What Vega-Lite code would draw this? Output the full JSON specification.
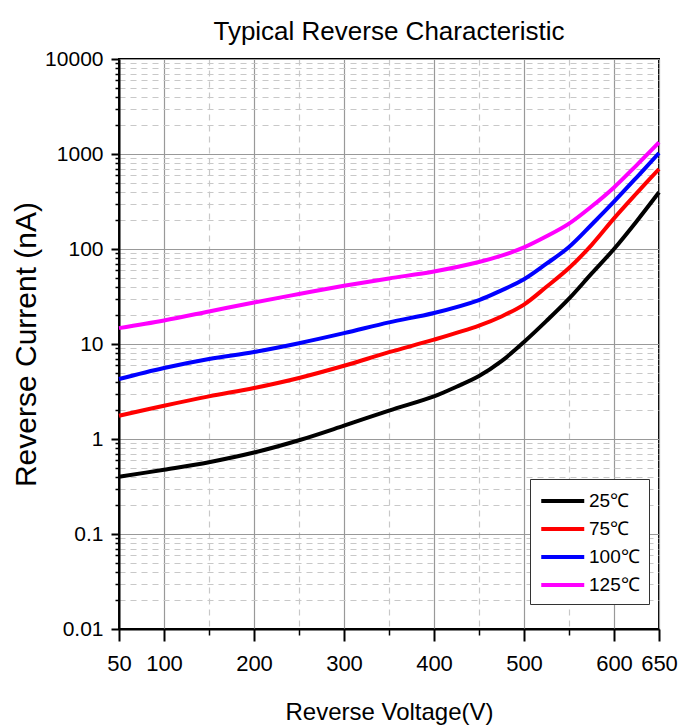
{
  "$schema": "https://vega.github.io/schema/vega-lite/v6.json",
  "width": 540,
  "height": 570,
  "autosize": "none",
  "padding": {"left": 119, "top": 59, "right": 32, "bottom": 97},
  "background": "white",
  "title": {"text": "Typical Reverse Characteristic", "font": "Liberation Sans", "fontSize": 26, "fontWeight": "normal", "color": "black", "anchor": "middle", "offset": 3},
  "config": {"view": {"stroke": "black", "strokeWidth": 2}},
  "data": {"values": [
    {"v": 50, "i": 0.40, "t": "25℃"}, {"v": 100, "i": 0.475, "t": "25℃"}, {"v": 150, "i": 0.57, "t": "25℃"}, {"v": 200, "i": 0.72, "t": "25℃"}, {"v": 250, "i": 0.97, "t": "25℃"}, {"v": 300, "i": 1.38, "t": "25℃"}, {"v": 350, "i": 1.99, "t": "25℃"}, {"v": 400, "i": 2.81, "t": "25℃"}, {"v": 425, "i": 3.55, "t": "25℃"}, {"v": 450, "i": 4.6, "t": "25℃"}, {"v": 475, "i": 6.6, "t": "25℃"}, {"v": 500, "i": 10.5, "t": "25℃"}, {"v": 525, "i": 17.5, "t": "25℃"}, {"v": 550, "i": 30, "t": "25℃"}, {"v": 575, "i": 55, "t": "25℃"}, {"v": 600, "i": 100, "t": "25℃"}, {"v": 625, "i": 195, "t": "25℃"}, {"v": 650, "i": 395, "t": "25℃"},
    {"v": 50, "i": 1.76, "t": "75℃"}, {"v": 100, "i": 2.24, "t": "75℃"}, {"v": 150, "i": 2.81, "t": "75℃"}, {"v": 200, "i": 3.44, "t": "75℃"}, {"v": 250, "i": 4.39, "t": "75℃"}, {"v": 300, "i": 5.9, "t": "75℃"}, {"v": 350, "i": 8.2, "t": "75℃"}, {"v": 400, "i": 11.1, "t": "75℃"}, {"v": 450, "i": 15.6, "t": "75℃"}, {"v": 475, "i": 19.5, "t": "75℃"}, {"v": 500, "i": 26, "t": "75℃"}, {"v": 525, "i": 40, "t": "75℃"}, {"v": 550, "i": 63, "t": "75℃"}, {"v": 575, "i": 110, "t": "75℃"}, {"v": 600, "i": 210, "t": "75℃"}, {"v": 625, "i": 385, "t": "75℃"}, {"v": 650, "i": 695, "t": "75℃"},
    {"v": 50, "i": 4.28, "t": "100℃"}, {"v": 100, "i": 5.59, "t": "100℃"}, {"v": 150, "i": 6.95, "t": "100℃"}, {"v": 200, "i": 8.24, "t": "100℃"}, {"v": 250, "i": 10.2, "t": "100℃"}, {"v": 300, "i": 13, "t": "100℃"}, {"v": 350, "i": 16.9, "t": "100℃"}, {"v": 400, "i": 21.2, "t": "100℃"}, {"v": 450, "i": 29, "t": "100℃"}, {"v": 475, "i": 36.7, "t": "100℃"}, {"v": 500, "i": 48, "t": "100℃"}, {"v": 525, "i": 70, "t": "100℃"}, {"v": 550, "i": 105, "t": "100℃"}, {"v": 575, "i": 180, "t": "100℃"}, {"v": 600, "i": 315, "t": "100℃"}, {"v": 625, "i": 565, "t": "100℃"}, {"v": 650, "i": 1024, "t": "100℃"},
    {"v": 50, "i": 14.7, "t": "125℃"}, {"v": 100, "i": 17.7, "t": "125℃"}, {"v": 150, "i": 22, "t": "125℃"}, {"v": 200, "i": 27.4, "t": "125℃"}, {"v": 250, "i": 33.6, "t": "125℃"}, {"v": 300, "i": 41, "t": "125℃"}, {"v": 350, "i": 49, "t": "125℃"}, {"v": 400, "i": 58, "t": "125℃"}, {"v": 450, "i": 73, "t": "125℃"}, {"v": 475, "i": 85, "t": "125℃"}, {"v": 500, "i": 104, "t": "125℃"}, {"v": 525, "i": 136, "t": "125℃"}, {"v": 550, "i": 185, "t": "125℃"}, {"v": 575, "i": 280, "t": "125℃"}, {"v": 600, "i": 445, "t": "125℃"}, {"v": 625, "i": 760, "t": "125℃"}, {"v": 650, "i": 1324, "t": "125℃"}
  ]},
  "layer": [
    {
      "mark": {"type": "point", "opacity": 0},
      "encoding": {
        "x": {"field": "v", "type": "quantitative", "scale": {"domain": [50, 650], "nice": false, "zero": false},
          "axis": {"orient": "bottom", "values": [150, 250, 350, 450, 550], "labels": false, "domain": false, "title": null, "tickSize": 6, "tickColor": "black", "tickWidth": 1.5, "grid": true, "gridColor": "#c8c8c8", "gridDash": [6, 5], "gridWidth": 1.2}},
        "y": {"field": "i", "type": "quantitative", "scale": {"type": "log", "domain": [0.01, 10000], "nice": false},
          "axis": {"orient": "left", "values": [0.02,0.03,0.04,0.05,0.06,0.07,0.08,0.09,0.2,0.3,0.4,0.5,0.6,0.7,0.8,0.9,2,3,4,5,6,7,8,9,20,30,40,50,60,70,80,90,200,300,400,500,600,700,800,900,2000,3000,4000,5000,6000,7000,8000,9000], "labels": false, "domain": false, "title": null, "tickSize": 4, "tickColor": "black", "tickWidth": 1.5, "grid": true, "gridColor": "#c8c8c8", "gridDash": [6, 5], "gridWidth": 1.2}}
      }
    },
    {
      "mark": {"type": "line", "strokeWidth": 4, "interpolate": "catmull-rom"},
      "encoding": {
        "x": {"field": "v", "type": "quantitative",
          "axis": {"orient": "bottom", "values": [50, 100, 200, 300, 400, 500, 600, 650], "title": "Reverse Voltage(V)", "titleFont": "Liberation Sans", "titleFontSize": 24, "titleFontWeight": "normal", "titleColor": "black", "titlePadding": 26, "labelFont": "Liberation Sans", "labelFontSize": 22, "labelColor": "black", "labelPadding": 12, "labelFlush": false, "labelOverlap": false, "tickSize": 12, "tickColor": "black", "tickWidth": 2, "domainColor": "black", "domainWidth": 2, "grid": true, "gridColor": "#999999", "gridWidth": 1.2}},
        "y": {"field": "i", "type": "quantitative",
          "axis": {"orient": "left", "values": [0.01, 0.1, 1, 10, 100, 1000, 10000], "format": "~g", "title": "Reverse Current (nA)", "titleFont": "Liberation Sans", "titleFontSize": 30, "titleFontWeight": "normal", "titleColor": "black", "titlePadding": 3, "labelFont": "Liberation Sans", "labelFontSize": 21, "labelColor": "black", "labelPadding": 8, "labelFlush": false, "labelOverlap": false, "tickSize": 8, "tickColor": "black", "tickWidth": 2, "domainColor": "black", "domainWidth": 2, "grid": true, "gridColor": "#999999", "gridWidth": 1.2}},
        "color": {"field": "t", "type": "nominal",
          "scale": {"domain": ["25℃", "75℃", "100℃", "125℃"], "range": ["#000000", "#ff0000", "#0000ff", "#ff00ff"]},
          "legend": {"orient": "none", "legendX": 411, "legendY": 420, "title": null, "symbolType": "M-1,0H3", "symbolSize": 462, "symbolStrokeWidth": 4, "labelFont": "Liberation Sans", "labelFontSize": 19, "labelColor": "black", "fillColor": "white", "strokeColor": "#333333", "padding": 9, "rowPadding": 5, "labelOffset": 24}}
      }
    }
  ],
  "resolve": {"axis": {"x": "independent", "y": "independent"}}
}
